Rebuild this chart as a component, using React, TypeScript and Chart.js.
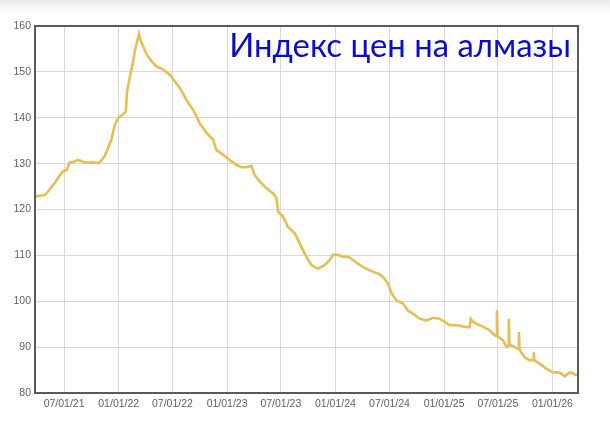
import React, { useEffect, useRef } from "react";
import { Chart, registerables } from "chart.js";

Chart.register(...registerables);

const TITLE = "Индекс цен на алмазы";

const dates: string[] = [
  "2021-03-25", "2021-04-11", "2021-04-28", "2021-05-04", "2021-05-21", "2021-05-31",
  "2021-06-17", "2021-06-28", "2021-07-10", "2021-07-19", "2021-08-01", "2021-08-17",
  "2021-09-03", "2021-09-20", "2021-10-07", "2021-10-24", "2021-11-04", "2021-11-15",
  "2021-11-25", "2021-12-08", "2021-12-19", "2021-12-31", "2022-01-16", "2022-01-25",
  "2022-01-29", "2022-02-07", "2022-02-19", "2022-02-24", "2022-03-02", "2022-03-10",
  "2022-03-15", "2022-03-24", "2022-04-05", "2022-04-22", "2022-05-08", "2022-05-31",
  "2022-06-22", "2022-07-09", "2022-07-26", "2022-08-17", "2022-09-09", "2022-09-20",
  "2022-10-01", "2022-10-24", "2022-11-15", "2022-11-26", "2022-12-19", "2023-01-10",
  "2023-02-02", "2023-02-19", "2023-03-07", "2023-03-24", "2023-04-04", "2023-04-21",
  "2023-05-14", "2023-06-05", "2023-06-16", "2023-06-22", "2023-07-09", "2023-07-25",
  "2023-08-17", "2023-09-03", "2023-09-14", "2023-09-25", "2023-10-12", "2023-11-03",
  "2023-11-26", "2023-12-13", "2023-12-24", "2024-01-10", "2024-01-27", "2024-02-12",
  "2024-02-29", "2024-03-23", "2024-04-14", "2024-05-07", "2024-05-29", "2024-06-09",
  "2024-06-26", "2024-07-08", "2024-07-24", "2024-08-16", "2024-09-01", "2024-09-18",
  "2024-10-11", "2024-11-02", "2024-11-25", "2024-12-17", "2025-01-03", "2025-01-20",
  "2025-02-11", "2025-03-06", "2025-03-28", "2025-04-01", "2025-04-08", "2025-04-20",
  "2025-05-12", "2025-06-03", "2025-06-20", "2025-06-26", "2025-06-28", "2025-06-30",
  "2025-07-18", "2025-07-30", "2025-08-05", "2025-08-07", "2025-08-09", "2025-08-27",
  "2025-09-08", "2025-09-10", "2025-09-12", "2025-09-30", "2025-10-16", "2025-10-28",
  "2025-10-30", "2025-11-01", "2025-11-19", "2025-12-11", "2026-01-03", "2026-01-19",
  "2026-01-31", "2026-02-11", "2026-02-22", "2026-03-06", "2026-03-17", "2026-03-28",
];

const values: number[] = [
  122.8, 123.0, 123.2, 123.6, 125.0, 125.8,
  127.5, 128.3, 128.6, 130.2, 130.4, 130.8,
  130.4, 130.2, 130.3, 130.1, 130.7, 131.7,
  133.2, 135.4, 138.5, 140.0, 140.8, 141.4,
  145.7, 148.7, 152.3, 154.5, 156.0, 158.3,
  157.0, 155.6, 153.8, 152.3, 151.2, 150.5,
  149.4, 147.9, 146.5, 143.9, 141.7, 140.3,
  138.8, 136.7, 135.2, 133.0, 131.9, 130.8,
  129.7, 129.2, 129.2, 129.5, 127.5, 126.1,
  124.6, 123.5, 122.6, 119.5, 118.4, 116.2,
  114.8, 112.6, 111.1, 109.7, 107.9, 107.1,
  107.9, 109.0, 110.1, 110.1, 109.7, 109.7,
  109.0, 107.9, 107.1, 106.4, 105.9, 105.3,
  103.9, 101.7, 100.2, 99.5, 98.0, 97.3,
  96.2, 95.8, 96.4, 96.2, 95.5, 94.8,
  94.8, 94.5, 94.3, 96.2, 95.6, 95.1,
  94.4, 93.7, 92.6, 92.4, 98.0, 92.3,
  91.5, 90.0, 90.3, 96.2, 90.6, 90.0,
  89.6, 93.3, 89.4, 87.8, 87.1, 87.2,
  88.9, 87.1, 86.4, 85.3, 84.5, 84.5,
  84.2, 83.6, 84.2, 84.5, 84.0, 83.8,
];

const xTickDates: string[] = [
  "2021-07-01", "2022-01-01", "2022-07-01", "2023-01-01", "2023-07-01",
  "2024-01-01", "2024-07-01", "2025-01-01", "2025-07-01", "2026-01-01",
];

const yTickValues: number[] = [80, 90, 100, 110, 120, 130, 140, 150, 160];

const toDay = (s: string): number => {
  const [y, m, d] = s.split("-").map(Number);
  return Date.UTC(y, m - 1, d) / 86400000;
};

const fmtDay = (day: number): string => {
  const dt = new Date(Math.round(day) * 86400000);
  const mm = String(dt.getUTCMonth() + 1).padStart(2, "0");
  const dd = String(dt.getUTCDate()).padStart(2, "0");
  const yy = String(dt.getUTCFullYear() % 100).padStart(2, "0");
  return `${mm}/${dd}/${yy}`;
};

const bgPlugin = {
  id: "bg",
  beforeDraw(chart: any) {
    const { ctx, width, height } = chart;
    ctx.save();
    ctx.fillStyle = "#ffffff";
    ctx.fillRect(0, 0, width, height);
    const g = ctx.createLinearGradient(0, 0, 0, 22);
    g.addColorStop(0, "#e9e9e9");
    g.addColorStop(1, "rgba(255,255,255,0)");
    ctx.fillStyle = g;
    ctx.fillRect(0, 0, width, 22);
    ctx.restore();
  },
};

const framePlugin = {
  id: "frame",
  afterDraw(chart: any) {
    const { ctx, chartArea } = chart;
    const { left, top, right, bottom } = chartArea;
    ctx.save();
    ctx.strokeStyle = "#5a5a5a";
    ctx.lineWidth = 2;
    ctx.strokeRect(left, top, right - left, bottom - top);
    // title inside plot area
    const targetW = 342;
    let size = 30;
    ctx.font = `${size}px Lato`;
    const w = ctx.measureText(TITLE).width;
    size = (size * targetW) / w;
    ctx.font = `${size}px Lato`;
    ctx.fillStyle = "#0b0bc8";
    ctx.textAlign = "right";
    ctx.textBaseline = "alphabetic";
    ctx.fillText(TITLE, right - 7, top + 31);
    ctx.restore();
  },
};

export default function App() {
  const ref = useRef<HTMLCanvasElement>(null);

  useEffect(() => {
    if (!ref.current) return;
    const points = dates.map((d, i) => ({ x: toDay(d), y: values[i] }));
    const tickFont = { family: "'Liberation Sans', Arial, sans-serif", size: 10.5 };
    const chart = new Chart(ref.current, {
      type: "line",
      data: {
        datasets: [
          {
            data: points,
            borderColor: "#e3bf55",
            borderWidth: 2.6,
            pointRadius: 0,
            tension: 0,
            fill: false,
          },
        ],
      },
      options: {
        responsive: false,
        animation: false,
        parsing: false as any,
        layout: { padding: { top: 26, right: 32, left: 0, bottom: 0 } },
        plugins: {
          legend: { display: false },
          tooltip: { enabled: false },
          title: { display: false },
        },
        scales: {
          x: {
            type: "linear",
            min: toDay(dates[0]),
            max: toDay(dates[dates.length - 1]),
            afterBuildTicks: (scale: any) => {
              scale.ticks = xTickDates.map((d) => ({ value: toDay(d) }));
            },
            afterFit: (scale: any) => {
              scale.height = 36;
            },
            ticks: {
              autoSkip: false,
              maxRotation: 0,
              minRotation: 0,
              padding: 5,
              color: "#5f5f5f",
              font: tickFont,
              callback: (v: any) => fmtDay(Number(v)),
            },
            grid: { color: "#d9d9d9", lineWidth: 1, drawTicks: false },
            border: { display: true, color: "#5a5a5a", width: 2 },
          },
          y: {
            type: "linear",
            min: 80,
            max: 160,
            afterBuildTicks: (scale: any) => {
              scale.ticks = yTickValues.map((v) => ({ value: v }));
            },
            afterFit: (scale: any) => {
              scale.width = 35;
            },
            ticks: {
              padding: 4,
              color: "#5f5f5f",
              font: tickFont,
              callback: (v: any) => String(v),
            },
            grid: { color: "#d9d9d9", lineWidth: 1, drawTicks: false },
            border: { display: true, color: "#5a5a5a", width: 2 },
          },
        },
      },
      plugins: [bgPlugin, framePlugin],
    });
    return () => chart.destroy();
  }, []);

  return (
    <div style={{ position: "absolute", left: 0, top: 0, width: 610, height: 429 }}>
      <canvas ref={ref} width={610} height={429} style={{ width: 610, height: 429, display: "block" }} />
    </div>
  );
}
